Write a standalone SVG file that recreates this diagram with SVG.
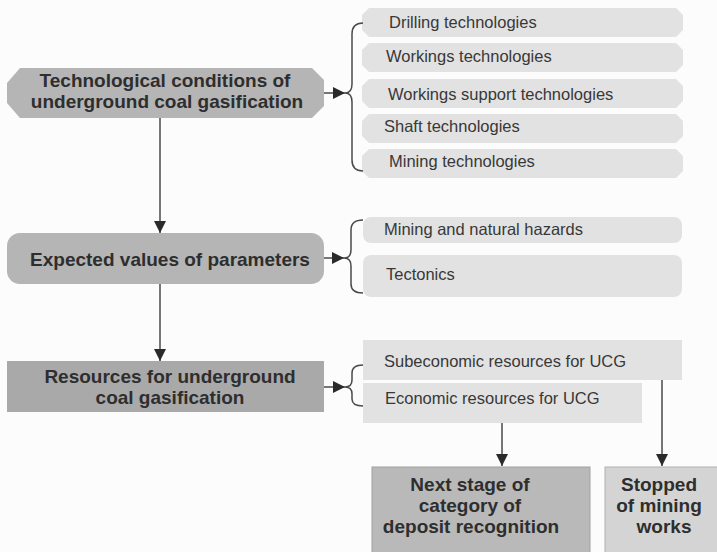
<svg xmlns="http://www.w3.org/2000/svg" width="717" height="552" viewBox="0 0 717 552">
<style>
.bg{fill:#fcfcfc}
.main{fill:#b5b5b5}
.res{fill:#a9a9a9}
.item{fill:#e2e2e2}
.next{fill:#b9b9b9;stroke:#a0a0a0;stroke-width:1}
.stop{fill:#d4d4d4;stroke:#b0b0b0;stroke-width:1}
.bt{font-family:"Liberation Sans",Arial,sans-serif;font-size:19px;font-weight:bold;fill:#2e2e2e;text-anchor:middle}
.it{font-family:"Liberation Sans",Arial,sans-serif;font-size:16.5px;fill:#383838}
.ln{fill:none;stroke:#4a4a4a;stroke-width:1.5}
</style>
<defs>
<marker id="ah" markerUnits="userSpaceOnUse" markerWidth="12" markerHeight="12" viewBox="0 0 12 12" refX="12" refY="6" orient="auto">
<path d="M0,0 L12,6 L0,12 Z" fill="#2a2a2a"/>
</marker>
</defs>
<rect class="bg" x="0" y="0" width="717" height="552"/>

<g id="node-tech">
<polygon class="main" points="20,68 312,68 324,80 324,106 312,118 20,118 7,103 7,83"/>
<text class="bt" x="165" y="87">Technological conditions of</text>
<text class="bt" x="167" y="108">underground coal gasification</text>
</g>

<g id="node-drilling">
<polygon class="item" points="369,8 676,8 683,15 683,30 676,37 369,37 362,30 362,15"/>
<text class="it" x="389" y="28">Drilling technologies</text>
</g>
<g id="node-workings">
<polygon class="item" points="369,43 676,43 683,50 683,65 676,72 369,72 362,65 362,50"/>
<text class="it" x="386" y="62">Workings technologies</text>
</g>
<g id="node-support">
<polygon class="item" points="369,79 676,79 683,86 683,101 676,108 369,108 362,101 362,86"/>
<text class="it" x="388" y="100">Workings support technologies</text>
</g>
<g id="node-shaft">
<polygon class="item" points="369,114 676,114 683,121 683,136 676,143 369,143 362,136 362,121"/>
<text class="it" x="384" y="132">Shaft technologies</text>
</g>
<g id="node-mining">
<polygon class="item" points="369,149 676,149 683,156 683,171 676,178 369,178 362,171 362,156"/>
<text class="it" x="389" y="167">Mining technologies</text>
</g>

<g id="node-expected">
<rect class="main" x="7" y="233" width="317" height="51" rx="13"/>
<text class="bt" x="170" y="266">Expected values of parameters</text>
</g>
<g id="node-hazards">
<rect class="item" x="363" y="217" width="319" height="26" rx="8"/>
<text class="it" x="384" y="235">Mining and natural hazards</text>
</g>
<g id="node-tectonics">
<rect class="item" x="363" y="255" width="319" height="42" rx="8"/>
<text class="it" x="386" y="280">Tectonics</text>
</g>

<g id="node-resources">
<rect class="res" x="7" y="361" width="317" height="51"/>
<text class="bt" x="170" y="383">Resources for underground</text>
<text class="bt" x="170" y="404">coal gasification</text>
</g>
<g id="node-subeconomic">
<rect class="item" x="363" y="340" width="319" height="40"/>
<text class="it" x="384" y="367">Subeconomic resources for UCG</text>
</g>
<g id="node-economic">
<rect class="item" x="363" y="383" width="279" height="40"/>
<text class="it" x="385" y="404">Economic resources for UCG</text>
</g>

<g id="node-next">
<rect class="next" x="372" y="467" width="218" height="95"/>
<text class="bt" x="470" y="491">Next stage of</text>
<text class="bt" x="470" y="512">category of</text>
<text class="bt" x="471" y="533">deposit recognition</text>
</g>
<g id="node-stopped">
<rect class="stop" x="605" y="467" width="120" height="95"/>
<text class="bt" x="659" y="491">Stopped</text>
<text class="bt" x="659" y="512">of mining</text>
<text class="bt" x="664" y="533">works</text>
</g>

<g id="connectors">
<line class="ln" x1="324" y1="93" x2="345" y2="93" marker-end="url(#ah)"/>
<path class="ln" d="M363,23 Q352,23 352,34 L352,84 Q352,93 345,93 Q352,93 352,102 L352,160 Q352,171 363,171"/>
<line class="ln" x1="160" y1="118" x2="160" y2="233" marker-end="url(#ah)"/>
<line class="ln" x1="324" y1="258" x2="344" y2="258" marker-end="url(#ah)"/>
<path class="ln" d="M363,220 Q351,220 351,230 L351,250 Q351,258 344,258 Q351,258 351,266 L351,284 Q351,293 363,293"/>
<line class="ln" x1="160" y1="284" x2="160" y2="361" marker-end="url(#ah)"/>
<line class="ln" x1="324" y1="387" x2="345" y2="387" marker-end="url(#ah)"/>
<path class="ln" d="M363,365 Q352,365 352,373 L352,380 Q352,387 345,387 Q352,387 352,394 L352,399 Q352,406 363,406"/>
<line class="ln" x1="502" y1="423" x2="502" y2="466" marker-end="url(#ah)"/>
<line class="ln" x1="662" y1="380" x2="662" y2="466" marker-end="url(#ah)"/>
</g>
</svg>
